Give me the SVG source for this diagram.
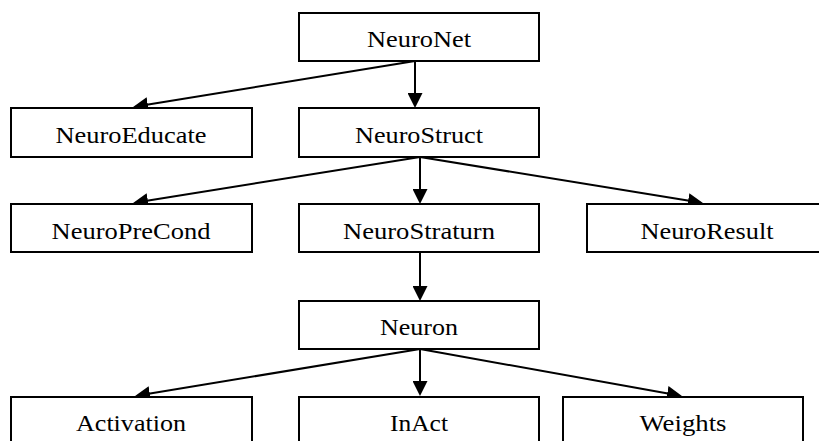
<svg xmlns="http://www.w3.org/2000/svg" width="819" height="441" viewBox="0 0 819 441">
  <style>
    .box rect { fill: #ffffff; stroke: #000000; stroke-width: 2; }
    .box text { font-family: "Liberation Serif", "Times New Roman", serif; font-size: 22.5px; fill: #000000; text-anchor: middle; }
    .edge { stroke: #000000; stroke-width: 2; fill: none; marker-end: url(#arrow); }
  </style>
  <defs>
    <marker id="arrow" markerUnits="userSpaceOnUse" markerWidth="15" markerHeight="15" refX="12" refY="7.5" orient="auto" viewBox="0 0 15 15">
      <path d="M0,0 L15,7.5 L0,15 z" fill="#000000"/>
    </marker>
  </defs>
  <rect width="819" height="441" fill="#ffffff"/>

  <!-- connectors -->
  <g id="connectors">
    <line class="edge" x1="415" y1="61" x2="136" y2="106.5"/>
    <line class="edge" x1="415" y1="61" x2="415" y2="105"/>
    <line class="edge" x1="420" y1="157" x2="136" y2="202.5"/>
    <line class="edge" x1="420" y1="157" x2="420" y2="201"/>
    <line class="edge" x1="420" y1="157" x2="700" y2="202.5"/>
    <line class="edge" x1="420" y1="252" x2="420" y2="298"/>
    <line class="edge" x1="420" y1="349" x2="138" y2="395.5"/>
    <line class="edge" x1="420" y1="349" x2="420" y2="393"/>
    <line class="edge" x1="420" y1="349" x2="679" y2="395.5"/>
  </g>

  <!-- level 0 -->
  <g id="neuronet" class="box">
    <rect x="299" y="13" width="240" height="48"/>
    <text x="419" y="47" textLength="104" lengthAdjust="spacingAndGlyphs">NeuroNet</text>
  </g>

  <!-- level 1 -->
  <g id="neuroeducate" class="box">
    <rect x="11" y="108" width="241" height="49"/>
    <text x="131" y="143" textLength="151" lengthAdjust="spacingAndGlyphs">NeuroEducate</text>
  </g>
  <g id="neurostruct" class="box">
    <rect x="299" y="108" width="240" height="49"/>
    <text x="419" y="143" textLength="128" lengthAdjust="spacingAndGlyphs">NeuroStruct</text>
  </g>

  <!-- level 2 -->
  <g id="neuroprecond" class="box">
    <rect x="11" y="204" width="241" height="48"/>
    <text x="131" y="239" textLength="159" lengthAdjust="spacingAndGlyphs">NeuroPreCond</text>
  </g>
  <g id="neurostraturn" class="box">
    <rect x="299" y="204" width="240" height="48"/>
    <text x="419" y="239" textLength="152" lengthAdjust="spacingAndGlyphs">NeuroStraturn</text>
  </g>
  <g id="neuroresult" class="box">
    <rect x="587" y="204" width="240" height="48"/>
    <text x="707" y="239" textLength="133" lengthAdjust="spacingAndGlyphs">NeuroResult</text>
  </g>

  <!-- level 3 -->
  <g id="neuron" class="box">
    <rect x="299" y="301" width="240" height="48"/>
    <text x="419" y="335" textLength="78" lengthAdjust="spacingAndGlyphs">Neuron</text>
  </g>

  <!-- level 4 -->
  <g id="activation" class="box">
    <rect x="11" y="397" width="241" height="48"/>
    <text x="131" y="431" textLength="110" lengthAdjust="spacingAndGlyphs">Activation</text>
  </g>
  <g id="inact" class="box">
    <rect x="299" y="397" width="240" height="48"/>
    <text x="419" y="431" textLength="58" lengthAdjust="spacingAndGlyphs">InAct</text>
  </g>
  <g id="weights" class="box">
    <rect x="563" y="397" width="240" height="48"/>
    <text x="683" y="431" textLength="87" lengthAdjust="spacingAndGlyphs">Weights</text>
  </g>
</svg>
